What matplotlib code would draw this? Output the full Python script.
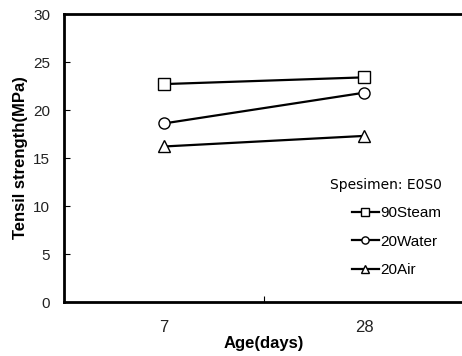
import matplotlib
matplotlib.use('Agg')

import numpy as np
import matplotlib.pyplot as plt

plt.rcParams['font.family'] = ['Liberation Sans', 'DejaVu Sans']

ages = ["7", "28"]
steam90 = [22.7, 23.4]
water20 = [18.6, 21.8]
air20 = [16.2, 17.3]

fig = plt.figure(figsize=(4.62, 3.56), dpi=100)
ax = fig.add_axes([64 / 462, 54 / 356, 400 / 462, 288 / 356])

x = np.arange(len(ages)) + 0.5
ax.plot(x, steam90, color='black', lw=1.6, marker='s', ms=8, mfc='white', mec='black', mew=1.0, label='90Steam')
ax.plot(x, water20, color='black', lw=1.6, marker='o', ms=8, mfc='white', mec='black', mew=1.0, label='20Water')
ax.plot(x, air20, color='black', lw=1.6, marker='^', ms=9, mfc='white', mec='black', mew=1.0, label='20Air')

ax.set_xlim(0, 2)
ax.set_ylim(0, 30)
ax.set_yticks(np.arange(0, 31, 5))
ax.set_xticks([1])
ax.set_xticklabels([])
ax.set_xticks(x, minor=True)
ax.set_xticklabels(ages, minor=True)
ax.tick_params(axis='x', which='minor', length=0, pad=13, labelsize=12, labelcolor='#222222')
ax.tick_params(axis='x', which='major', direction='in', length=4)
ax.tick_params(axis='y', direction='in', length=4, labelsize=11, labelcolor='#222222', pad=10)
for s in ax.spines.values():
    s.set_linewidth(2)

ax.set_xlabel('Age(days)', fontsize=12, fontweight='bold', labelpad=1)
ax.set_ylabel('Tensil strength(MPa)', fontsize=12, fontweight='bold', labelpad=4)

leg = ax.legend(loc='upper left', bbox_to_anchor=(0.63, 0.48), frameon=False,
                title='Spesimen: E0S0', fontsize=11, handlelength=1.8,
                handletextpad=0.1, labelspacing=0.95, markerscale=0.65)
leg.get_title().set_fontsize(10)
leg.get_title().set_family('DejaVu Sans')
leg._legend_box.align = 'right'

fig.savefig('out.png', dpi=100)
